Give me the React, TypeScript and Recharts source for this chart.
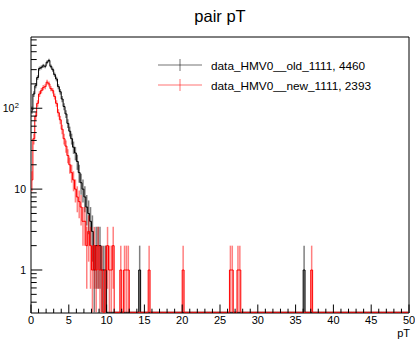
import React from 'react';
import { ComposedChart, Line, XAxis, YAxis, ErrorBar, ReferenceArea, Legend, Label } from 'recharts';

const BIN_WIDTH = 0.25;
const N_BINS = 200;
const X_MAX = 50;
const Y_MIN = 0.294;
const Y_MAX = 760;
const FLOOR = 0.3;

// bin contents, bins of 0.25 starting at 0
const oldCounts = [
  95, 150, 190, 240, 310, 320, 335, 330, 370, 390,
  330, 300, 260, 230, 185, 160, 130, 105, 85, 65,
  52, 42, 33, 28, 22, 16, 12, 10, 8, 6,
  5, 4, 3, 1, 2, 2, 2, 1, 1, 1,
];
const newCounts = [
  13, 42, 80, 115, 150, 165, 180, 185, 210, 200,
  175, 165, 140, 115, 88, 72, 55, 42, 34, 26,
  20, 16, 13, 10, 8, 7, 6, 4, 4, 2,
  3, 2, 1, 2, 1, 2, 1, 1, 0, 1,
  2, 1, 1, 2, 0, 0, 0, 1, 0, 1, 1, 1,
];
// isolated bins further out: [bin centre, content]
const oldTail: [number, number][] = [[14.375, 1], [36.125, 1]];
const newTail: [number, number][] = [
  [15.625, 1], [20.125, 1], [26.375, 1], [26.625, 1], [27.375, 1], [27.625, 1], [37.125, 1],
];

const seriesNames = ['data_HMV0__old_1111, 4460', 'data_HMV0__new_1111, 2393'];
const seriesColors = ['#000000', '#ff0000'];
const titleText = 'pair pT';
const xTitle = 'pT';

const xTicks = Array.from({ length: 51 }, (_, i) => i);
const yMajor = [1, 10, 100];
const yTicks = [
  0.4, 0.5, 0.6, 0.7, 0.8, 0.9, 1,
  2, 3, 4, 5, 6, 7, 8, 9, 10,
  20, 30, 40, 50, 60, 70, 80, 90, 100,
  200, 300, 400, 500, 600, 700,
];

const FONT = '"Liberation Sans", Arial, Helvetica, sans-serif';

const fill = (counts: number[], tail: [number, number][]) => {
  const arr = new Array(N_BINS).fill(0);
  counts.forEach((c, i) => (arr[i] = c));
  tail.forEach(([c, n]) => (arr[Math.floor(c / BIN_WIDTH)] = n));
  return arr;
};
const oldAll = fill(oldCounts, oldTail);
const newAll = fill(newCounts, newTail);

const err = (n: number) =>
  n > 0 ? [n - Math.max(n - Math.sqrt(n), FLOOR), Math.sqrt(n)] : null;

const rows = oldAll.map((o, i) => ({
  x: (i + 0.5) * BIN_WIDTH,
  oldN: o,
  newN: newAll[i],
  oldErr: err(o),
  newErr: err(newAll[i]),
}));

const XTick = (props: any) => {
  const { x, y, payload } = props;
  const v = payload.value;
  const major = v % 5 === 0;
  return (
    <g>
      <line x1={x} x2={x} y1={y} y2={y - (major ? 8.5 : 4.3)} stroke="#000" strokeWidth={1} />
      {major && (
        <text x={x} y={y + 11} textAnchor="middle" fontSize={11} fontFamily={FONT} fill="#000">
          {v}
        </text>
      )}
    </g>
  );
};

const YTick = (props: any) => {
  const { x, y, payload } = props;
  const v = payload.value;
  const major = yMajor.includes(v);
  let label: React.ReactNode = null;
  if (v === 100) {
    label = (
      <text x={x - 12} y={y + 4} textAnchor="end" fontSize={10.5} fontFamily={FONT} fill="#000">
        10
        <tspan dx={0.5} dy={-4.5} fontSize={7.5}>2</tspan>
      </text>
    );
  } else if (major) {
    label = (
      <text x={x - 5} y={y + 4} textAnchor="end" fontSize={10.5} fontFamily={FONT} fill="#000">
        {v}
      </text>
    );
  }
  return (
    <g>
      <line x1={x} x2={x + (major ? 11.3 : 5.7)} y1={y} y2={y} stroke="#000" strokeWidth={1} />
      {label}
    </g>
  );
};

const LegendBox = () => (
  <svg width={260} height={42} style={{ overflow: 'visible' }}>
    {seriesNames.map((name, i) => {
      const cy = 10 + 20 * i;
      return (
        <g key={name}>
          <line x1={8} x2={52} y1={cy} y2={cy} stroke={seriesColors[i]} strokeOpacity={0.55} />
          <line x1={30} x2={30} y1={cy - 6} y2={cy + 6} stroke={seriesColors[i]} strokeOpacity={0.55} />
          <text x={61} y={cy + 4.5} fontSize={11.8} fontFamily={FONT} fill="#000">
            {name}
          </text>
        </g>
      );
    })}
  </svg>
);

const XTitle = (props: any) => {
  const { viewBox } = props;
  return (
    <text x={viewBox.x + viewBox.width + 1} y={viewBox.y + 24} textAnchor="end" fontSize={11} fontFamily={FONT} fill="#000">
      {xTitle}
    </text>
  );
};

export default function App() {
  return (
    <div style={{ position: 'absolute', left: 0, top: 0, width: 415, height: 341, background: '#fff', fontFamily: FONT }}>
      <div
        style={{
          position: 'absolute',
          left: 0,
          width: 440,
          top: 8,
          textAlign: 'center',
          fontSize: 16.5,
          lineHeight: '16.5px',
          fontFamily: FONT,
          color: '#000',
          zIndex: 2,
        }}
      >
        {titleText}
      </div>
      <ComposedChart width={415} height={341} data={rows} margin={{ top: 37, right: 6, bottom: 0, left: 0 }}>
        <XAxis
          dataKey="x"
          type="number"
          domain={[0, X_MAX]}
          ticks={xTicks}
          interval={0}
          height={28}
          tickSize={0}
          tickMargin={0}
          axisLine={false}
          tickLine={false}
          tick={<XTick />}
        >
          <Label content={<XTitle />} />
        </XAxis>
        <YAxis
          type="number"
          scale="log"
          domain={[Y_MIN, Y_MAX]}
          allowDataOverflow
          ticks={yTicks}
          interval={0}
          width={31}
          tickSize={0}
          tickMargin={0}
          axisLine={false}
          tickLine={false}
          tick={<YTick />}
        />
        <ReferenceArea x1={0} x2={X_MAX} y1={Y_MIN} y2={Y_MAX} fill="none" stroke="#000" strokeWidth={1} ifOverflow="visible" />
        <Line
          dataKey={(d: any) => (d.oldN > 0 ? d.oldN : FLOOR)}
          type="step"
          stroke={seriesColors[0]}
          strokeWidth={1}
          dot={false}
          activeDot={false}
          isAnimationActive={false}
          name={seriesNames[0]}
        >
          <ErrorBar dataKey="oldErr" width={0} stroke={seriesColors[0]} strokeOpacity={0.5} direction="y" />
        </Line>
        <Line
          dataKey={(d: any) => (d.newN > 0 ? d.newN : FLOOR)}
          type="step"
          stroke={seriesColors[1]}
          strokeWidth={1}
          dot={false}
          activeDot={false}
          isAnimationActive={false}
          name={seriesNames[1]}
        >
          <ErrorBar dataKey="newErr" width={0} stroke={seriesColors[1]} strokeOpacity={0.5} direction="y" />
        </Line>
        <Legend
          layout="vertical"
          align="center"
          verticalAlign="middle"
          content={() => <LegendBox />}
          wrapperStyle={{ left: 150, top: 55, width: 260, height: 42 }}
        />
      </ComposedChart>
    </div>
  );
}
